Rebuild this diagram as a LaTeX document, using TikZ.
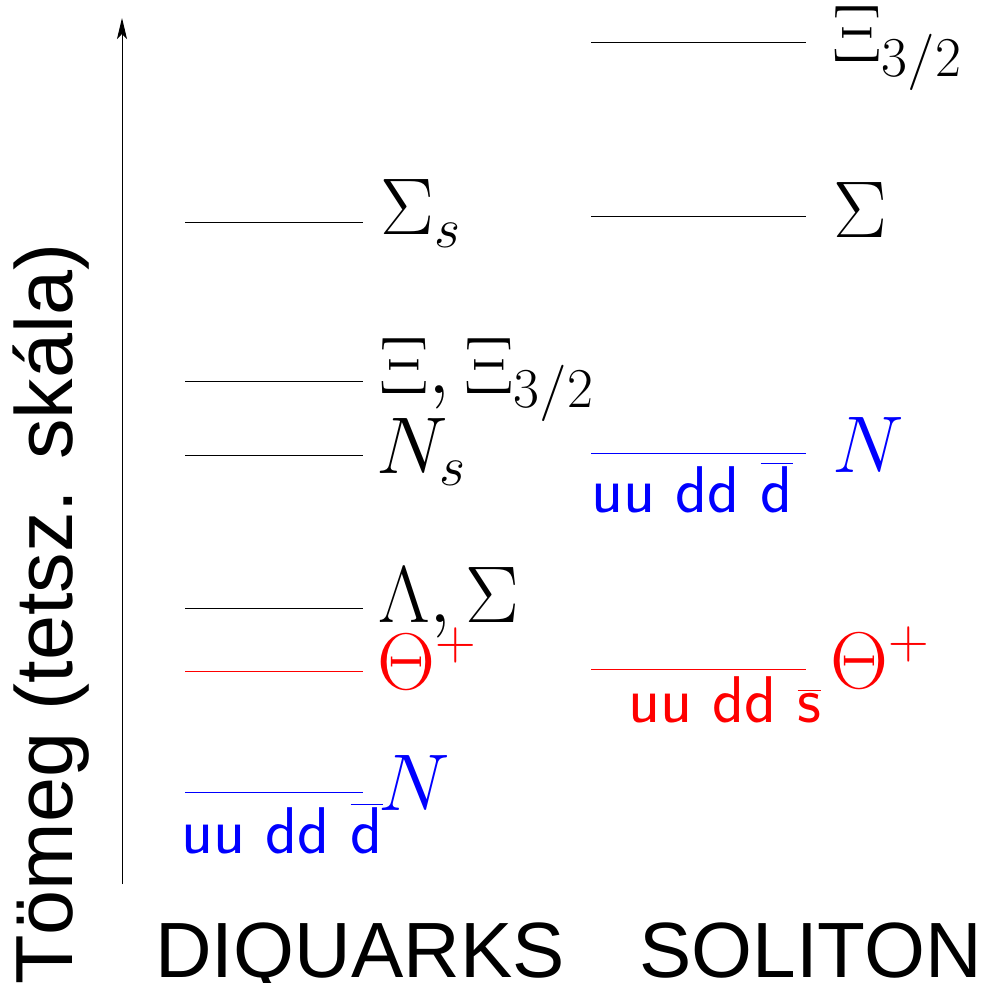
\RequirePackage{fix-cm}
\documentclass[tikz,border=0pt]{standalone}
\usepackage[no-math]{fontspec}
\newfontfamily\helv{Liberation Sans}
\usepackage{xcolor}
\usepackage{tikz}
\usetikzlibrary{arrows.meta}

\begin{document}
\begin{tikzpicture}[x=0.02cm, y=-0.02cm,
    level/.style={line width=0.55pt},
    mass/.style={anchor=base west, inner sep=0pt, font=\fontsize{45.8}{45.8}\selectfont},
    quark/.style={anchor=base west, inner sep=0pt, font=\fontsize{37.6}{37.6}\selectfont\sffamily},
    title/.style={anchor=base west, inner sep=0pt, font=\fontsize{44.6}{44.6}\selectfont\helv},
    arrow/.style={-{Stealth[length=0.42cm, width=0.2cm, inset=0.1cm]}, line width=0.55pt}
]
\useasboundingbox (0,0) rectangle (984,983);

% Mass axis
\coordinate (axisbot) at (122,884);
\coordinate (axistop) at (122,18);
\draw[arrow] (axisbot) -- (axistop);
\node[title, rotate=90, font=\fontsize{46.1}{46.1}\selectfont\helv] (axislabel) at (72,985) {Tömeg (tetsz. skála)};

% Diquark levels
\draw[level] (185,222) -- (363,222);
\draw[level] (185,381) -- (363,381);
\draw[level] (185,455) -- (363,455);
\draw[level] (185,608) -- (363,608);
\draw[level, red] (185,671) -- (363,671);
\draw[level, blue] (185,792) -- (363,792);

\node[mass] (sigmas) at (380,235) {$\Sigma_s$};
\node[mass] (xil) at (379,393) {$\Xi, \Xi_{3/2}$};
\node[mass] (ns) at (376,473) {$N_s$};
\node[mass] (lamsig) at (378,622) {$\Lambda, \Sigma$};
\node[mass, red] (thetal) at (377,689) {$\Theta^+$};
\node[mass, blue] (nl) at (378,810) {$N$};
\node[quark, blue] (quarkdl) at (181,853) {uu dd $\overline{\hbox{d}}$};

% Soliton levels
\draw[level] (591,42) -- (806,42);
\draw[level] (591,216) -- (806,216);
\draw[level, blue] (591,453) -- (806,453);
\draw[level, red] (591,669) -- (806,669);

\node[mass] (xir) at (832,62) {$\Xi_{3/2}$};
\node[mass] (sigr) at (833,238) {$\Sigma$};
\node[mass, blue] (nr) at (832,472) {$N$};
\node[mass, red] (thetar) at (830,688) {$\Theta^+$};
\node[quark, blue] (quarkdr) at (591,512) {uu dd $\overline{\hbox{d}}$};
\node[quark, red] (quarksr) at (628,722) {uu dd $\overline{\hbox{s}}$};

% Column titles
\node[title] (diquarks) at (155,977) {DIQUARKS};
\node[title] (soliton) at (639,977) {SOLITON};

\end{tikzpicture}
\end{document}
